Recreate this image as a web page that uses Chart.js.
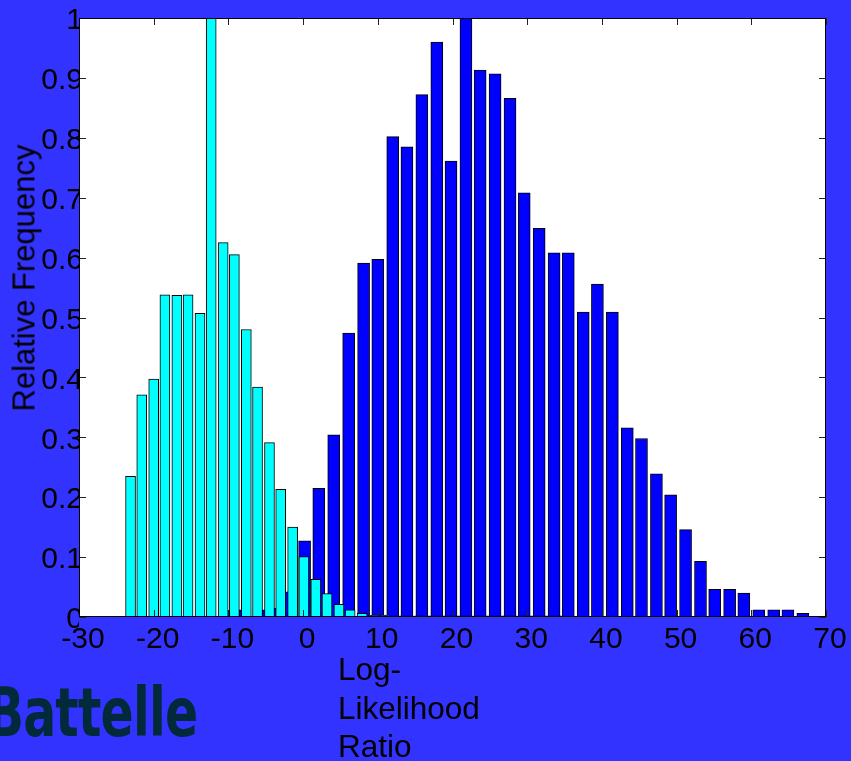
<!DOCTYPE html>
<html lang="en">
<head>
    <meta charset="UTF-8">
    <title>Log-Likelihood Ratio histogram</title>
    <style>
        html, body {
            margin: 0;
            padding: 0;
            background: #3333ff;
        }

        #wrap {
            position: relative;
            width: 851px;
            height: 761px;
            overflow: hidden;
            font-family: 'Liberation Sans', Arial, sans-serif;
        }

        #chart {
            position: absolute;
            left: 0;
            top: 0;
        }

        .ytitle {
            position: absolute;
            left: 24px;
            top: 278px;
            font-size: 31px;
            line-height: 1;
            white-space: nowrap;
            transform: translate(-50%, -50%) rotate(-90deg);
        }

        .xtitle {
            position: absolute;
            left: 338px;
            top: 650px;
            font-size: 31.5px;
            line-height: 38.5px;
        }

        .logo {
            position: absolute;
            right: 654px;
            top: 677px;
            font-family: 'Liberation Sans Narrow', 'DejaVu Sans Condensed', sans-serif;
            font-weight: bold;
            font-size: 68px;
            line-height: 72px;
            letter-spacing: -1px;
            color: #032a3a;
            white-space: nowrap;
            transform: scaleX(0.8);
            transform-origin: right center;
        }
    </style>
</head>
<body>
    <div id="wrap">
        <canvas id="chart" width="851" height="761"></canvas>
        <div class="ytitle">Relative Frequency</div>
        <div class="xtitle">Log-<br>Likelihood<br>Ratio</div>
        <div class="logo">Battelle</div>
    </div>

    <script src="https://cdn.jsdelivr.net/npm/chart.js"></script>
    <script>
        // bin centres and relative frequencies
        const cyanBins = [-23.1, -21.6, -20.0, -18.5, -16.9, -15.4, -13.8, -12.3, -10.7, -9.2,
            -7.6, -6.1, -4.5, -3.0, -1.4, 0.1, 1.7, 3.2, 4.8, 6.3, 7.9, 9.4,
            11.0, 12.5, 14.1, 15.6, 17.2, 18.7, 20.3, 21.8, 23.4, 24.9, 26.5, 28.0, 29.6, 31.1, 32.7, 34.2];
        const cyanFreq = [0.235, 0.371, 0.397, 0.538, 0.537, 0.538, 0.507, 1.0, 0.625, 0.605,
            0.480, 0.384, 0.291, 0.213, 0.150, 0.101, 0.063, 0.039, 0.021, 0.012, 0.006, 0.003,
            0.003, 0.002, 0.002, 0.002, 0.002, 0.002, 0.002, 0.002, 0.002, 0.002, 0.002, 0.002, 0.002, 0.002, 0.002, 0.002];

        const blueBins = [-9.7, -7.8, -5.8, -3.8, -1.8, 0.2, 2.1, 4.1, 6.1, 8.1,
            10.0, 12.0, 13.9, 15.9, 17.9, 19.8, 21.8, 23.7, 25.7, 27.7,
            29.6, 31.6, 33.6, 35.5, 37.5, 39.4, 41.4, 43.4, 45.3, 47.3,
            49.2, 51.2, 53.2, 55.1, 57.1, 59.0, 61.0, 63.0, 64.9, 66.9];
        const blueFreq = [0.010, 0.012, 0.012, 0.015, 0.042, 0.127, 0.215, 0.304, 0.474, 0.591,
            0.597, 0.802, 0.785, 0.872, 0.960, 0.761, 1.0, 0.913, 0.907, 0.866,
            0.708, 0.649, 0.608, 0.608, 0.509, 0.556, 0.509, 0.316, 0.298, 0.239,
            0.204, 0.146, 0.093, 0.046, 0.046, 0.040, 0.012, 0.012, 0.012, 0.006];

        const xTickLabels = ['-30', '-20', '-10', '0', '10', '20', '30', '40', '50', '60', '70'];
        const yTickLabels = ['0', '0.1', '0.2', '0.3', '0.4', '0.5', '0.6', '0.7', '0.8', '0.9', '1'];

        const toPoints = (xs, ys) => xs.map((x, i) => ({ x: x, y: ys[i] }));

        // white plot box, black frame and inward tick marks (matlab style)
        const plotFrame = {
            id: 'plotFrame',
            beforeDraw(chart) {
                const { ctx, chartArea: a } = chart;
                ctx.save();
                ctx.fillStyle = '#ffffff';
                ctx.fillRect(a.left, a.top, a.right - a.left, a.bottom - a.top);
                ctx.restore();
            },
            afterDraw(chart) {
                const { ctx, chartArea: a, scales } = chart;
                ctx.save();
                ctx.strokeStyle = '#222';
                ctx.lineWidth = 1;
                ctx.beginPath();
                scales.x.ticks.forEach(t => {
                    const px = Math.round(scales.x.getPixelForValue(t.value)) + 0.5;
                    ctx.moveTo(px, a.top); ctx.lineTo(px, a.top + 7);
                    ctx.moveTo(px, a.bottom); ctx.lineTo(px, a.bottom - 7);
                });
                scales.y.ticks.forEach(t => {
                    const py = Math.round(scales.y.getPixelForValue(t.value)) + 0.5;
                    ctx.moveTo(a.left, py); ctx.lineTo(a.left + 7, py);
                    ctx.moveTo(a.right, py); ctx.lineTo(a.right - 7, py);
                });
                ctx.stroke();
                ctx.strokeStyle = '#000';
                ctx.strokeRect(a.left + 0.5, a.top + 0.5, a.right - a.left - 1, a.bottom - a.top - 1);
                ctx.restore();
            }
        };

        const tickFont = { family: "'Liberation Sans', Arial, sans-serif", size: 30 };

        new Chart(document.getElementById('chart'), {
            type: 'bar',
            data: {
                datasets: [{
                    label: 'cyan',
                    data: toPoints(cyanBins, cyanFreq),
                    backgroundColor: '#00ffff',
                    borderColor: '#000000',
                    borderWidth: 1,
                    barThickness: 10,
                    stack: 'same'
                }, {
                    label: 'blue',
                    data: toPoints(blueBins, blueFreq),
                    backgroundColor: '#0000ff',
                    borderColor: '#000000',
                    borderWidth: 1,
                    barThickness: 12,
                    stack: 'same'
                }]
            },
            options: {
                responsive: false,
                animation: false,
                layout: { padding: { top: 18, right: 25, left: 0, bottom: 104 } },
                plugins: {
                    legend: { display: false },
                    tooltip: { enabled: false }
                },
                scales: {
                    x: {
                        type: 'linear',
                        offset: false,
                        min: -30,
                        max: 70,
                        grid: { display: false, drawTicks: false },
                        border: { display: false },
                        ticks: {
                            stepSize: 10,
                            color: '#000',
                            font: tickFont,
                            padding: 5,
                            labelOffset: 4,
                            maxRotation: 0,
                            callback: (v, i) => xTickLabels[i]
                        },
                        afterFit: s => { s.height = 40; }
                    },
                    y: {
                        min: 0,
                        max: 1,
                        stacked: false,
                        grid: { display: false, drawTicks: false },
                        border: { display: false },
                        ticks: {
                            stepSize: 0.1,
                            color: '#000',
                            font: tickFont,
                            padding: -4,
                            labelOffset: 3,
                            callback: (v, i) => yTickLabels[i]
                        },
                        afterFit: s => { s.width = 79; }
                    }
                }
            },
            plugins: [plotFrame]
        });
    </script>
</body>
</html>
